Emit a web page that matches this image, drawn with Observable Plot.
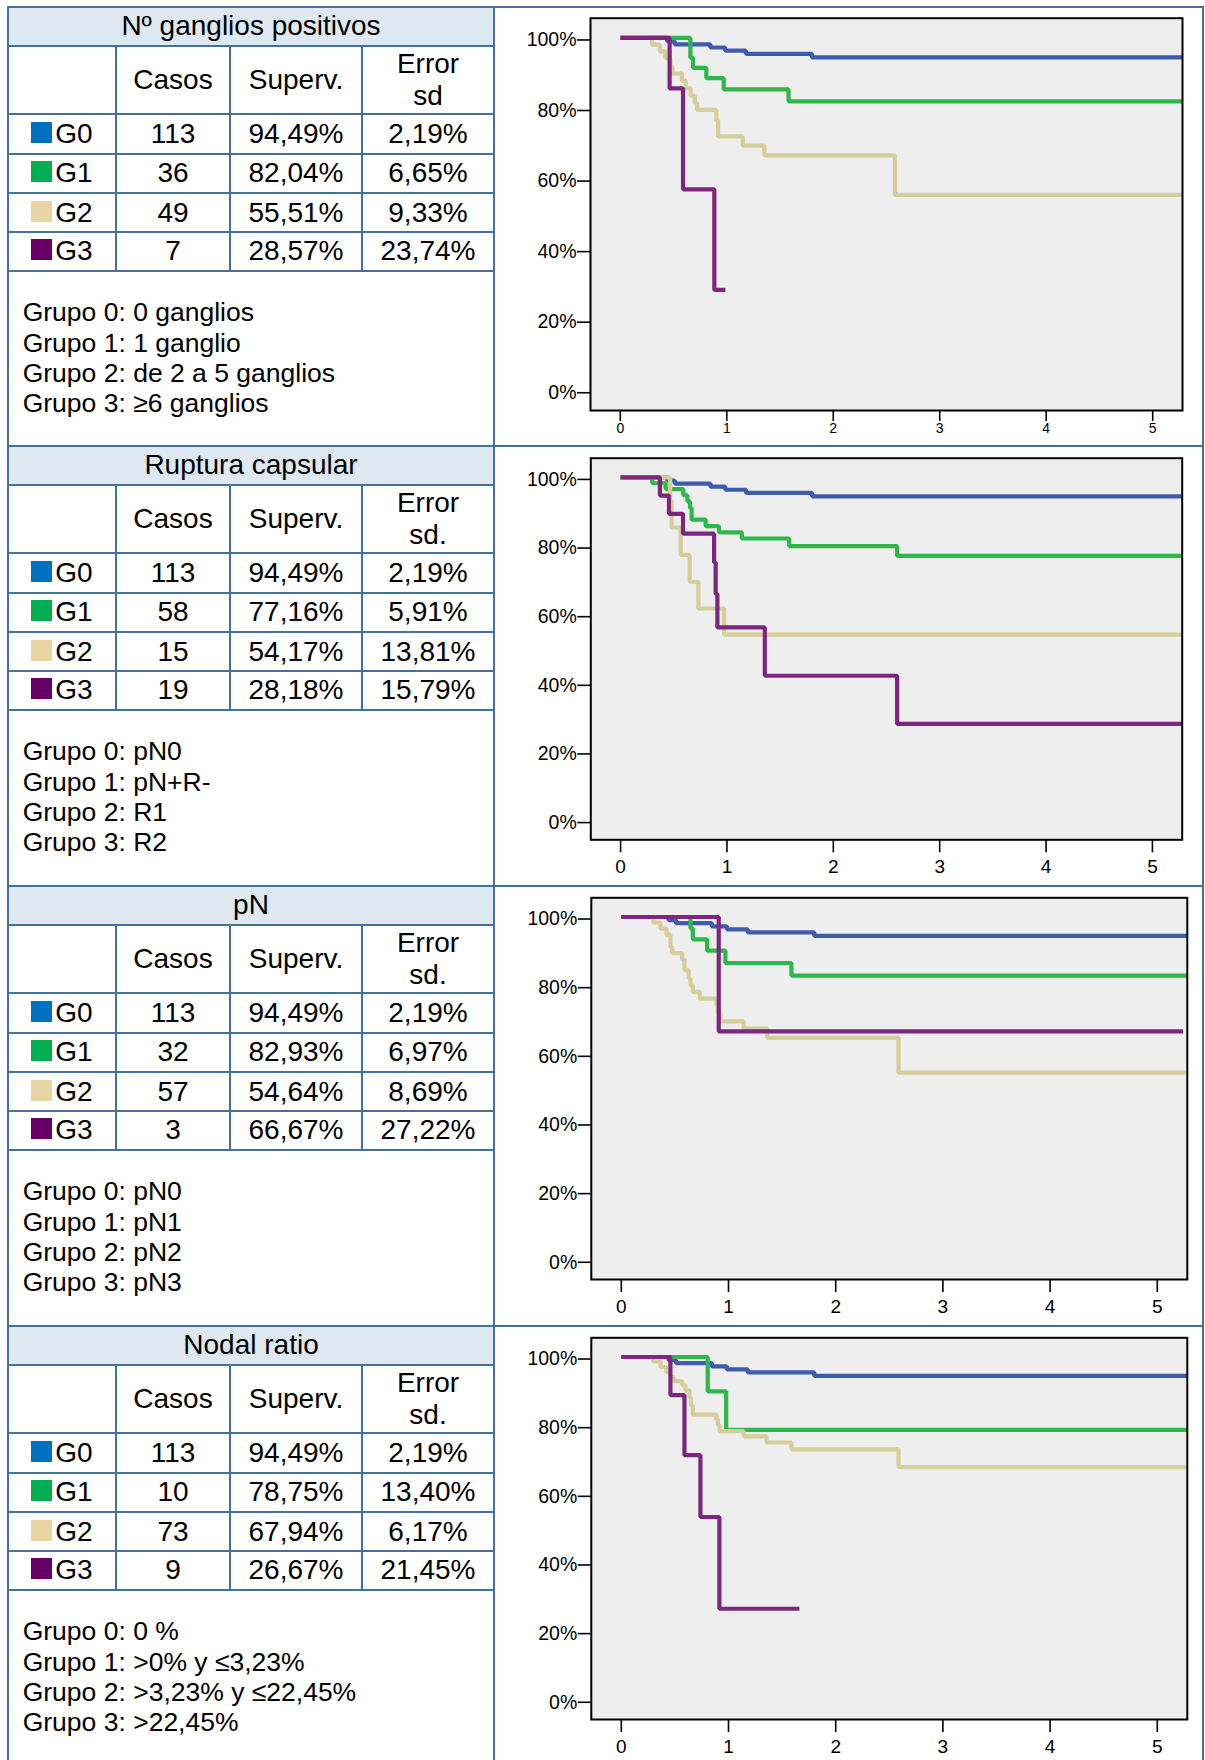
<!DOCTYPE html>
<html><head><meta charset="utf-8">
<script src="https://cdn.jsdelivr.net/npm/d3@7"></script>
<script src="https://cdn.jsdelivr.net/npm/@observablehq/plot@0.6"></script>
<style>
body{margin:0;background:#fff;}
#page{position:relative;width:1205px;height:1760px;overflow:hidden;font-family:"Liberation Sans",Arial,sans-serif;color:#000;background:#fff;}
.ln{position:absolute;background:#45729a;}
.cell{position:absolute;display:flex;align-items:center;justify-content:center;font-size:28px;line-height:1;text-align:center;white-space:nowrap;}
.sq{display:inline-block;width:21px;height:21px;margin-right:3px;vertical-align:baseline;}
.notes{position:absolute;font-size:26.5px;line-height:30.3px;white-space:pre;}
.chart{position:absolute;}
</style></head><body><div id="page"></div>
<script>
// ---- table data ----
const titulos = ["Nº ganglios positivos", "Ruptura capsular", "pN", "Nodal ratio"];
const cabError = ["Error\nsd", "Error\nsd.", "Error\nsd.", "Error\nsd."];
const grupos = ["G0", "G1", "G2", "G3"];
const coloresTabla = ["#0070c0", "#00b050", "#e8d5a3", "#660066"];
const coloresLinea = ["#3f5bb0", "#2eb84a", "#d6ce98", "#7c277d"];

const casos1 = [113, 36, 49, 7];
const superv1 = ["94,49%", "82,04%", "55,51%", "28,57%"];
const error1 = ["2,19%", "6,65%", "9,33%", "23,74%"];
const notas1 = ["Grupo 0: 0 ganglios", "Grupo 1: 1 ganglio", "Grupo 2: de 2 a 5 ganglios", "Grupo 3: ≥6 ganglios"];

const casos2 = [113, 58, 15, 19];
const superv2 = ["94,49%", "77,16%", "54,17%", "28,18%"];
const error2 = ["2,19%", "5,91%", "13,81%", "15,79%"];
const notas2 = ["Grupo 0: pN0", "Grupo 1: pN+R-", "Grupo 2: R1", "Grupo 3: R2"];

const casos3 = [113, 32, 57, 3];
const superv3 = ["94,49%", "82,93%", "54,64%", "66,67%"];
const error3 = ["2,19%", "6,97%", "8,69%", "27,22%"];
const notas3 = ["Grupo 0: pN0", "Grupo 1: pN1", "Grupo 2: pN2", "Grupo 3: pN3"];

const casos4 = [113, 10, 73, 9];
const superv4 = ["94,49%", "78,75%", "67,94%", "26,67%"];
const error4 = ["2,19%", "13,40%", "6,17%", "21,45%"];
const notas4 = ["Grupo 0: 0 %", "Grupo 1: >0% y ≤3,23%", "Grupo 2: >3,23% y ≤22,45%", "Grupo 3: >22,45%"];

// ---- axis ticks ----
const yTicks = [0, 20, 40, 60, 80, 100];
const xTicks = [0, 1, 2, 3, 4, 5];

// ---- Kaplan-Meier curves (time in years, survival %) ----
const g0_t = [0, 0.44, 0.51, 0.845, 0.985, 1.18, 1.80, 5.28];
const g0_s = [100, 99.1, 98.2, 97.3, 96.4, 95.5, 94.49, 94.49];

const p1g1_t = [0, 0.658, 0.683, 0.808, 0.971, 1.58, 5.28];
const p1g1_s = [100, 94.4, 91.5, 88.6, 85.4, 82.04, 82.04];
const p1g2_t = [0, 0.298, 0.37, 0.423, 0.47, 0.489, 0.579, 0.614, 0.66, 0.70, 0.72, 0.902, 0.918, 1.15, 1.353, 2.58, 5.28];
const p1g2_s = [100, 98.1, 96.2, 94.3, 91.9, 89.9, 87.9, 85.8, 83.6, 81.6, 79.6, 76.6, 72.1, 69.5, 66.7, 55.51, 55.51];
const p1g3_t = [0, 0.463, 0.589, 0.883, 0.987];
const p1g3_s = [100, 85.7, 57.1, 28.57, 28.57];

const p2g1_t = [0, 0.298, 0.424, 0.59, 0.628, 0.653, 0.668, 0.80, 0.926, 1.14, 1.585, 2.60, 5.28];
const p2g1_s = [100, 98.3, 96.6, 94.8, 93.0, 91.1, 87.7, 85.8, 84.0, 82.2, 80.0, 77.16, 77.16];
const p2g2_t = [0, 0.465, 0.48, 0.565, 0.65, 0.731, 0.973, 5.28];
const p2g2_s = [100, 93.2, 85.4, 77.4, 69.6, 61.8, 54.17, 54.17];
const p2g3_t = [0, 0.37, 0.455, 0.587, 0.879, 0.894, 0.91, 1.356, 2.60, 5.28];
const p2g3_s = [100, 94.7, 89.4, 83.6, 75.2, 66.0, 56.3, 42.2, 28.18, 28.18];

const p3g1_t = [0, 0.645, 0.667, 0.80, 0.971, 1.587, 5.28];
const p3g1_s = [100, 96.7, 93.5, 90.2, 86.6, 82.93, 82.93];
const p3g2_t = [0, 0.297, 0.365, 0.421, 0.458, 0.474, 0.567, 0.589, 0.629, 0.645, 0.667, 0.732, 0.887, 0.90, 0.925, 1.142, 1.36, 2.586, 5.28];
const p3g2_s = [100, 98.4, 96.6, 94.9, 91.3, 89.5, 87.7, 84.5, 82.1, 80.1, 78.2, 76.2, 74.3, 72.0, 69.6, 67.5, 64.8, 54.64, 54.64];
const p3g3_t = [0, 0.909, 5.24];
const p3g3_s = [100, 66.67, 66.67];

const p4g1_t = [0, 0.806, 0.978, 5.28];
const p4g1_s = [100, 90.0, 78.75, 78.75];
const p4g2_t = [0, 0.297, 0.365, 0.421, 0.458, 0.49, 0.567, 0.598, 0.635, 0.65, 0.667, 0.887, 0.90, 0.918, 1.142, 1.354, 1.587, 2.586, 5.28];
const p4g2_s = [100, 98.7, 97.1, 95.6, 94.2, 93.0, 91.8, 90.3, 88.3, 85.9, 83.2, 81.9, 80.1, 78.4, 76.9, 75.1, 73.1, 67.94, 67.94];
const p4g3_t = [0, 0.458, 0.589, 0.738, 0.915, 1.662];
const p4g3_s = [100, 88.9, 71.4, 53.4, 26.67, 26.67];

// ---- assemble ----
const paneles = [
  {casos: casos1, superv: superv1, error: error1, notas: notas1,
   curvas: [[g0_t, g0_s], [p1g1_t, p1g1_s], [p1g2_t, p1g2_s], [p1g3_t, p1g3_s]]},
  {casos: casos2, superv: superv2, error: error2, notas: notas2,
   curvas: [[g0_t, g0_s], [p2g1_t, p2g1_s], [p2g2_t, p2g2_s], [p2g3_t, p2g3_s]]},
  {casos: casos3, superv: superv3, error: error3, notas: notas3,
   curvas: [[g0_t, g0_s], [p3g1_t, p3g1_s], [p3g2_t, p3g2_s], [p3g3_t, p3g3_s]]},
  {casos: casos4, superv: superv4, error: error4, notas: notas4,
   curvas: [[g0_t, g0_s], [p4g1_t, p4g1_s], [p4g2_t, p4g2_s], [p4g3_t, p4g3_s]]}
];

// layout
const panelTop = [7, 446, 886, 1326];
const chartLayout = [
  {top: 9, height: 436, mt: 8.7, mb: 35, ml: 94, mr: 19, xfs: 14, xts: 11, xtp: 2},
  {top: 448, height: 436, mt: 9.7, mb: 44.7, ml: 94.3, mr: 19.3, xfs: 19, xts: 13, xtp: 7},
  {top: 888, height: 436, mt: 9.3, mb: 45, ml: 94.8, mr: 14.2, xfs: 19, xts: 13, xtp: 7},
  {top: 1328, height: 430, mt: 9.3, mb: 39, ml: 94.8, mr: 14.2, xfs: 19, xts: 13, xtp: 7}
];

const page = document.getElementById("page");
function el(cls, css, html) {
  const d = document.createElement("div");
  d.className = cls;
  Object.assign(d.style, css);
  if (html != null) d.innerHTML = html;
  page.appendChild(d);
  return d;
}
function box(x1, y1, x2, y2) {
  return {left: x1 + "px", top: y1 + "px", width: (x2 - x1) + "px", height: (y2 - y1) + "px"};
}
function hline(x1, x2, y) { el("ln", {left: (x1 - 1) + "px", top: (y - 1) + "px", width: (x2 - x1 + 2) + "px", height: "2px"}); }
function vline(x, y1, y2) { el("ln", {left: (x - 1) + "px", top: (y1 - 1) + "px", width: "2px", height: (y2 - y1 + 2) + "px"}); }

const colX = [8, 116, 230, 362, 494];
const rowOff = [38.5, 106.5, 146.5, 186, 225, 263.5];

paneles.forEach((p, k) => {
  const T = panelTop[k];
  el("", Object.assign({position: "absolute", background: "#dde8f0"}, box(8, T, 494, T + rowOff[0])));
  el("cell", box(8, T, 494, T + rowOff[0]), titulos[k]);
  el("cell", box(116, T + rowOff[0], 230, T + rowOff[1]), "Casos");
  el("cell", box(230, T + rowOff[0], 362, T + rowOff[1]), "Superv.");
  const ce = el("cell", box(362, T + rowOff[0], 494, T + rowOff[1]), cabError[k].replace("\n", "<br>"));
  ce.style.lineHeight = "32px";
  for (let i = 0; i < 4; i++) {
    const y1 = T + rowOff[i + 1], y2 = T + rowOff[i + 2];
    el("cell", box(colX[0], y1, colX[1], y2), `<span><span class="sq" style="background:${coloresTabla[i]}"></span>${grupos[i]}</span>`);
    el("cell", box(colX[1], y1, colX[2], y2), String(p.casos[i]));
    el("cell", box(colX[2], y1, colX[3], y2), p.superv[i]);
    el("cell", box(colX[3], y1, colX[4], y2), p.error[i]);
  }
  el("notes", {left: "22.7px", top: (T + 290.4) + "px"}, p.notas.join("\n"));

  hline(8, 1203, T);
  for (let j = 0; j < rowOff.length; j++) hline(8, 494, T + rowOff[j]);
  vline(8, T, T + 440);
  vline(494, T, T + 440);
  vline(1203, T, T + 440);
  [116, 230, 362].forEach(x => vline(x, T + rowOff[0], T + rowOff[5]));

  const L = chartLayout[k];
  const lineMarks = p.curvas.map(([ts, ss], g) =>
    Plot.line(ts.map((t, i) => ({t, s: ss[i]})), {
      x: "t", y: "s", curve: "step-after", stroke: coloresLinea[g],
      strokeWidth: 4.2, strokeLinejoin: "miter", strokeLinecap: "butt", clip: "frame"
    })
  );
  const chart = Plot.plot({
    width: 705, height: L.height,
    marginTop: L.mt, marginBottom: L.mb, marginLeft: L.ml, marginRight: L.mr,
    x: {domain: [-0.28, 5.28]},
    y: {domain: [-5.6, 105.6]},
    style: {fontFamily: "'Liberation Sans', Arial, sans-serif", background: "white", color: "black", overflow: "visible"},
    marks: [
      Plot.frame({fill: "#eeeeee", stroke: null}),
      Plot.axisY({ticks: yTicks, tickFormat: d => d + "%", tickSize: 13, tickPadding: 1, fontSize: 19.5, strokeWidth: 1.6, label: null, dy: 2}),
      Plot.axisX({ticks: xTicks, tickFormat: d => String(d), tickSize: L.xts, tickPadding: L.xtp, fontSize: L.xfs, strokeWidth: 1.6, label: null}),
      ...lineMarks,
      Plot.frame({stroke: "black", strokeWidth: 2})
    ]
  });
  const wrap = el("chart", {left: "496px", top: L.top + "px"});
  wrap.appendChild(chart);
});
</script>
</body></html>
